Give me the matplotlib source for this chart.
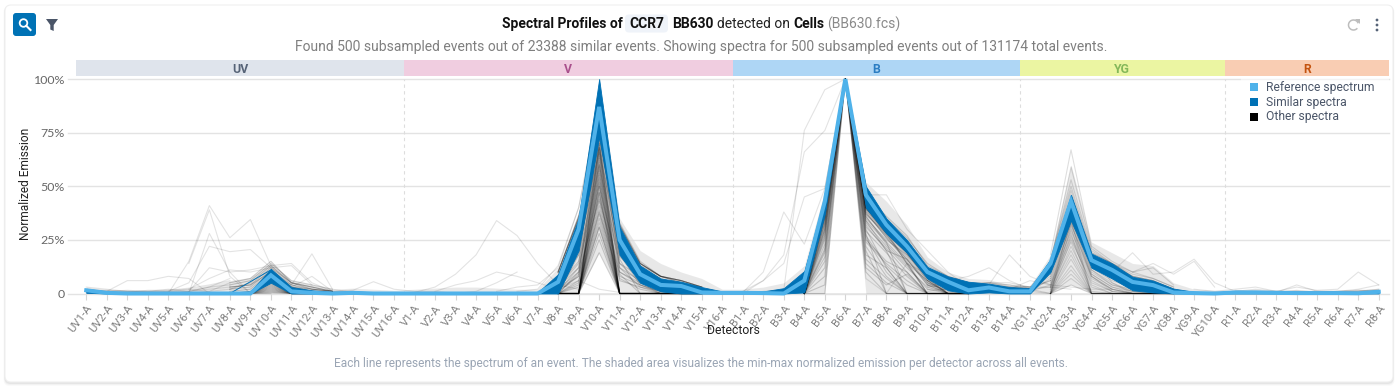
import matplotlib
matplotlib.use("Agg")
import matplotlib.pyplot as plt
from matplotlib.patches import FancyBboxPatch, Rectangle, Circle, Polygon, Arc
from matplotlib.transforms import ScaledTranslation

W, H = 1400, 389

detectors = ["UV1-A","UV2-A","UV3-A","UV4-A","UV5-A","UV6-A","UV7-A","UV8-A","UV9-A","UV10-A","UV11-A","UV12-A","UV13-A","UV14-A","UV15-A","UV16-A",
             "V1-A","V2-A","V3-A","V4-A","V5-A","V6-A","V7-A","V8-A","V9-A","V10-A","V11-A","V12-A","V13-A","V14-A","V15-A","V16-A",
             "B1-A","B2-A","B3-A","B4-A","B5-A","B6-A","B7-A","B8-A","B9-A","B10-A","B11-A","B12-A","B13-A","B14-A",
             "YG1-A","YG2-A","YG3-A","YG4-A","YG5-A","YG6-A","YG7-A","YG8-A","YG9-A","YG10-A",
             "R1-A","R2-A","R3-A","R4-A","R5-A","R6-A","R7-A","R8-A"]
lasers = ["UV", "V", "B", "YG", "R"]
laser_counts = [16, 16, 14, 10, 8]
laser_fill = ["#DFE4EC", "#F0CDE0", "#AED6F5", "#EBF5A2", "#F9CDB3"]
laser_text = ["#566377", "#A9508C", "#2B7DC2", "#84B85A", "#C4530F"]

reference = [1.5,0.3,0,0,0,0,0,0,0,8.5,1,0.3,0,0.3,0,0,
             0,0,0,0,0,0,0,5.4,30,87,25,9,4,3.5,0.5,0.3,
             0.3,0.2,0,6,43,100,46,32,22,10,5.5,1.5,2.8,1,
             1,14,43,15.5,11,5.4,3.9,0.5,0.2,0,
             0.5,0.5,0.3,0.2,0.2,0.2,0.1,0.8]
similar_upper = [2.2,1,0.5,0.5,0.4,0.4,0.4,0.5,1,11.5,3,1.5,0.8,1,0.6,0.4,
                 0.4,0.3,0.3,0.3,0.3,0.3,0.5,9,35,100,31,13,7,5.5,3,1,
                 1,1,2.5,10.5,45,100,50,35,25,12.4,8,5.5,4.6,3,
                 2.5,16,46,18.6,14,7.8,6,2.3,0.8,0.5,
                 1,1,0.8,0.7,0.7,0.7,0.7,1.6]
similar_lower = [0.3,0,0,0,0,0,0,0,0,5,0,0,0,0,0,0,
                 0,0,0,0,0,0,0,0,20,73,18,5,1,0,0,0,
                 0,0,0,0.5,37,100,40,28,19,7,1.5,0,0.5,0,
                 0,10,34,12,7,1.5,0.5,0,0,0,
                 0,0,0,0,0,0,0,0]
shade_upper = [3,2,1.5,1.5,2,2.5,4,6,7.5,14,6,4,2,2.5,2,1.5,
               2,2.5,3,3,2.5,2,2,12,38,100,35,20,14,10,7,2,
               2,3,5,13,48,100,52,43,32,17,10,7,6.5,4,
               3.5,18,60,24,19,14,13,5,2,1.5,
               1.5,1.5,1.5,1.5,1.5,1.5,2,2]
shade_lower = [0,0,0,0,0,0,0,0,0,0,0,0,0,0,0,0,
               0,0,0,0,0,0,0,0,0,19,0,0,0,0,0,0,
               0,0,0,0,0,100,0,0,0,0,0,0,0,0,
               0,0,4,0,0,0,0,0,0,0,
               0,0,0,0,0,0,0,0]

# individually visible events: (first detector index, values)
outliers = [
    (4,  [0,15,41,26,34.5,13,4,1,0.5]),
    (5,  [14,39,8,0,0]),
    (5,  [0,28,10,0]),
    (4,  [1,5,22,19.5,20.5,12,3,1]),
    (1,  [1,6,6,8,7,0,0]),
    (9,  [8,4,18.5,2,0.5]),
    (9,  [9,3,8,1,0.5]),
    (5,  [1,12,10,11,13,14,5,1]),
    (5,  [2,7,11,10,12,13,4]),
    (12, [1,1.5,5.5,2,1,1,0,1,5,10]),
    (16, [0.5,3,9,18,34,27,14,4,2]),
    (17, [1,4,6,10,8,5,2,6,2,0.5]),
    (21, [1,2,13,40,90,30,10,3]),
    (20, [1,3,4,12,40,85,20,6]),
    (33, [1,1.5,76,95,100,50,30]),
    (32, [1,6,18,66,76,100]),
    (32, [0,6,14,45,49,100]),
    (32, [0.5,10,38,23,49,100]),
    (37, [100,7,0,14,9,0,0]),
    (37, [100,46,46,30,20,10,3]),
    (41, [9,6,8,12,6,2,3,2]),
    (43, [2,4,18,8,4,3,2,2]),
    (45, [2,6,4,32,8,1]),
    (47, [3,33,18,5,0]),
    (49, [13,10,19,9,10,16,5,1]),
    (51, [10,14,9,15,3]),
    (56, [1,2,1,3,1.5,2,10,4]),
    (58, [0.5,4,1,1,2,4]),
    (54, [2,1,2,3,1,1,0.5,1,1,1]),
]

# dense fans around each emission peak
v_fan_start = 23   # V8 .. V15
v_fan = [
    [10,36,72,33,15,8,6,3],[10,36,74,32,14,8,6,3],[10,35,70,32,14,8,6,3],[10,35,68,32,14,8,6,3],
    [10,35,72,31,14,8,6,3],[9,28,66,26,14,8,5,3],[8,26,64,24,13,8,5,2],[8,24,70,22,12,7,4,2],
    [7,22,62,20,11,6,4,1],[6,20,68,18,10,5,3,1],[5,18,60,17,9,5,2,0],[4,15,58,14,8,4,1,0],
    [3,12,56,12,6,3,1,0],[2,10,66,10,5,2,0,0],[1,8,54,8,4,1,0,0],[0,5,52,6,3,0,0,0],
    [0,0,71,0,0,0,0,0],[0,0,69,0,0,0,0,0],[0,0,67,0,0,0,0,0],[0,0,65,0,0,0,0,0],
    [0,0,63,0,0,0,0,0],[0,0,61,0,0,0,0,0],[0,0,59,0,0,0,0,0],[0,0,57,0,0,0,0,0],
    [0,0,55,0,0,0,0,0],[0,0,53,0,0,0,0,0],[0,0,51,0,0,0,0,0],[0,0,50,0,0,0,0,0],
    [0,0,48,0,0,0,0,0],[0,0,47,0,0,0,0,0],[0,0,47,0,0,0,0,0],[0,0,45,0,0,0,0,0],
    [0,0,43,0,0,0,0,0],[0,0,41,0,0,0,0,0],[0,0,39,0,0,0,0,0],[0,0,37,0,0,0,0,0],
    [0,0,35,0,0,0,0,0],[0,0,33,0,0,0,0,0],[0,0,31,0,0,0,0,0],[0,0,31,0,0,0,0,0],
    [0,0,28,0,0,0,0,0],[0,0,25,0,0,0,0,0],[0,0,19,0,0,0,0,0],[0,4,76,18,4,0,0,0],
    [2,8,78,12,3,1,0,0],[3,14,80,20,6,2,0,0],[0,18,74,23,9,4,2,0],[1,12,68,16,0,0,0,0],
    [0,10,60,14,5,0,0,0],[0,6,50,10,4,1,0,0],[0,9,44,9,0,0,0,0],[0,3,38,7,2,0,0,0],
]
b_fan_start = 35   # B4 .. B12
b_fan = [
    [0,0,100,34,20,0,0,0,0],[0,4,100,30,12,0,0,0,0],[0,8,100,28,0,0,0,0,0],[0,12,100,26,10,0,0,0,0],
    [0,15,100,24,14,6,0,0,0],[0,17,100,22,8,0,0,0,0],[0,19,100,20,0,0,0,0,0],[0,21,100,18,12,0,0,0,0],
    [0,23,100,14,5,0,0,0,0],[0,25,100,10,0,0,0,0,0],[0,26,100,36,24,14,0,0,0],[0,27,100,38,26,16,4,0,0],
    [0,28,100,33,22,12,3,0,0],[0,29,100,35,25,18,6,0,0],[0,30,100,37,28,14,0,0,0],[0,31,100,31,21,10,0,0,0],
    [0,32,100,39,27,17,5,1,0],[0,33,100,29,19,8,0,0,0],[0,33,100,40,29,19,7,0,0],[0,34,100,36,23,13,2,0,0],
    [0,35,100,38,26,15,0,0,0],[0,35,100,32,20,16,4,0,0],[0,36,100,40,28,18,8,2,0],[0,36,100,34,24,0,0,0,0],
    [0,36,100,27,13,4,0,0,0],[0,37,100,37,27,16,5,0,0],[0,37,100,40,29,19,7,3,0],[0,38,100,39,28,19,6,0,0],
    [0,38,100,40,28,20,8,2,0],[0,39,100,25,15,10,0,0,0],[0,39,100,40,29,19,8,4,0],[0,40,100,40,29,20,9,4,1],
    [1,40,100,40,28,19,7,0,0],[1,41,100,41,30,20,10,4,2],[2,41,100,41,29,14,6,0,0],[2,42,100,42,30,21,10,5,2],
    [3,42,100,43,32,22,9,3,0],[4,43,100,47,35,26,14,8,5],[5,44,100,44,33,19,8,2,0],[8,45,100,46,36,27,13,8,5],
    [0,30,100,16,7,0,0,0,0],[0,20,100,12,4,9,0,0,0],
]
yg_fan_start = 47  # YG2 .. YG8
yg_fan = [
    [0,4,0,0,0,0,0],[0,7,0,0,0,0,0],[0,9,0,0,0,0,0],[0,11,0,0,0,0,0],[0,13,0,0,0,0,0],[0,16,0,0,0,0,0],
    [0,18,0,0,0,0,0],[1,20,1,0,0,0,0],[0,22,3,0,0,0,0],[2,24,0,0,0,0,0],[0,25,5,1,0,0,0],[3,26,4,0,0,0,0],
    [1,27,6,1,0,0,0],[2,28,0,0,0,0,0],[4,29,7,2,0,0,0],[3,30,8,2,0,0,0],[0,31,0,0,0,0,0],[5,32,9,3,1,0,0],
    [6,33,8,2,0,0,0],[7,34,10,4,1,0,0],[8,34,0,0,0,0,0],[9,35,11,5,1,1,0],[0,35,9,3,0,0,0],[10,36,11,4,2,1,0],
    [10,37,13,7,2,1,0],[11,38,12,6,3,2,0],[12,38,14,8,4,3,0],[12,40,15,9,4,3,0],[13,42,14,10,6,4,1],[14,44,16,11,6,4,1],
    [15,46,18,13,8,6,2],[15,48,19,14,8,6,2],[16,50,19,14,8,6,2],[15,53,20,14,9,7,3],[14,59,21,14,10,7,3],[18,67,22,15,10,12,4],
]
uv_fan_start = 7   # UV8 .. UV13
uv_fan = [
    [0,0,0.5,0,0,0],[0,0,1,0,0,0],[0,0,1.5,0,0,0],[0,0,2,0,0,0],[0,0,2.5,0,0,0],[0,0,3,0,0,0],
    [0,0,3.5,0,0,0],[0,0,4,0,0,0],[0,0,4.5,0,0,0],[0,0,5,0,0,0],[0,0,5.5,0,0,0],[0,0,6,0,0,0],
    [0,0,7,0,0,0],[0,0,8,0,0,0],[0,1,9,2,0,0],[1,2,10,3,1,0],[2,3,11,4,2,1],[3,4,12,5,2,1],
    [2,5,13,5,3,1],[4,6,14,6,4,2],[5,7,15,5,3,1],[3,4,10,3,2,1],
]
tail_start = 41    # B10 .. YG2
tail_rows = [
    [10,6,4,5,5,3,3],[8,6,5,5,3,3,6],[9,7,3,4,4,2,8],[6,5,4,3,3,2,12],[5,3,4,5,4,3,10],[4,4,5,3,3,3,14],
    [3,4,2,3,2,2,9],[7,5,3,2,3,2,6],[2,2,1,2,2,1,7],[1,2,3,3,1,1,4],[6,3,5,3,2,2,0],[4,2,1,1,1,1,0],
]
noise_start = 0
noise_rows = [
    [1,1,0.5,0.3,0.5,1,2,3],[2,1,1.5,1,1,2,1,2],[0.5,1.5,1,1,2,1,3,4],[3,2,1,1,0.5,0.5,1,5],
    [1,0.5,0.5,1.5,1.5,2.5,4,6],[0.5,0.5,1,0.5,1,1,3,7],
]
noise2_start = 56
noise2_rows = [[1,1,1,0.5,1,0.5,1,2],[0.5,1.5,0.5,1,0.5,1,1.5,1],[1.5,0.5,1,1,1,1,0.5,1.5],[1,1,0.5,1.5,0.5,0.5,1,2]]

ytick_values = [0, 25, 50, 75, 100]
ytick_labels = ["0", "25%", "50%", "75%", "100%"]
legend_labels = ["Reference spectrum", "Similar spectra", "Other spectra"]
REF_C, SIM_C, OTH_C = "#4FB2EA", "#0071B5", "#000000"

plt.rcParams["font.family"] = ["Roboto", "DejaVu Sans"]
fig = plt.figure(figsize=(W/100, H/100), dpi=100, facecolor="white")

# pixel overlay for card and page furniture
bg = fig.add_axes([0, 0, 1, 1], zorder=0)
bg.set_xlim(0, W); bg.set_ylim(H, 0); bg.axis("off")
for grow, a in [(3, 0.02), (2, 0.03), (1, 0.05)]:
    bg.add_patch(FancyBboxPatch((5-grow*0.5, 6), 1388+grow, 377+grow, boxstyle="round,pad=0,rounding_size=6",
                                fc="#000000", ec="none", alpha=a))
bg.add_patch(FancyBboxPatch((5, 5), 1388, 377, boxstyle="round,pad=0,rounding_size=6", fc="white", ec="#EFEFEF", lw=0.8))

# main axes
L, R_, T, B = 76, 1389, 79, 293.5
ax = fig.add_axes([L/W, 1-B/H, (R_-L)/W, (B-T)/H], zorder=1)
ax.patch.set_alpha(0)
ax.set_xlim(-0.5, 63.5); ax.set_ylim(0, 100)
for s in ax.spines.values():
    s.set_visible(False)
x_all = list(range(len(detectors)))

for v in ytick_values:
    ax.plot([-0.9, 63.5], [v, v], color="#E3E3E3", lw=1.0, clip_on=False, zorder=0.5)

ax.fill_between(x_all, shade_lower, shade_upper, color="#DADADA", alpha=0.6, lw=0, zorder=1)

def draw_rows(start, rows, alpha):
    for r in rows:
        ax.plot(range(start, start+len(r)), r, color="black", lw=0.8, alpha=alpha, clip_on=False, zorder=2, solid_joinstyle="round")

ax.plot([0, 63], [0, 0], color="black", lw=1.0, alpha=0.35, zorder=2)
draw_rows(v_fan_start, v_fan, 0.17)
draw_rows(b_fan_start, b_fan, 0.17)
draw_rows(yg_fan_start, yg_fan, 0.13)
draw_rows(uv_fan_start, uv_fan, 0.2)
draw_rows(tail_start, tail_rows, 0.13)
draw_rows(noise_start, noise_rows, 0.1)
draw_rows(noise2_start, noise2_rows, 0.1)
for start, vals in outliers:
    ax.plot(range(start, start+len(vals)), vals, color="black", lw=0.8, alpha=0.11, clip_on=False, zorder=2)

ax.fill_between(x_all, similar_lower, similar_upper, color=SIM_C, lw=0.6, zorder=3, clip_on=False)
ax.plot([7, 9], [0, 11], color=SIM_C, lw=0.7, zorder=3)
ax.plot(x_all, reference, color=REF_C, lw=2.9, zorder=4, clip_on=False, solid_joinstyle="miter")

# laser header bands and separators
pos = -0.5
for name, n, fc, tc in zip(lasers, laser_counts, laser_fill, laser_text):
    ax.add_patch(Rectangle((pos, 1.014), n, 0.0746, transform=ax.get_xaxis_transform(), fc=fc, ec="none", clip_on=False))
    ax.text(pos+n/2, 1.045, name, transform=ax.get_xaxis_transform(), ha="center", va="center",
            color=tc, fontsize=8.8, fontweight="bold")
    if pos > 0:
        ax.plot([pos, pos], [0, 100.0], color="#DDDDDD", lw=0.8, ls=(0, (3, 3)), zorder=0.6)
    pos += n

ax.set_xticks(x_all)
ax.set_xticklabels(detectors, rotation=53, ha="right", va="top", rotation_mode="anchor",
                   fontsize=8.2, color="#808080", family="Roboto")
shift = ScaledTranslation(3/100, 0, fig.dpi_scale_trans)
for lab in ax.get_xticklabels():
    lab.set_transform(lab.get_transform() + shift)
ax.tick_params(axis="x", length=4, width=0.8, color="#D5D5D5", pad=3)
ax.set_yticks(ytick_values)
ax.set_yticklabels(ytick_labels, fontsize=8.9, color="#666666", family="Lato")
ax.tick_params(axis="y", length=0, pad=8)

# legend
fg = fig.add_axes([0, 0, 1, 1], zorder=2)
fg.set_xlim(0, W); fg.set_ylim(H, 0); fg.axis("off")
fg.add_patch(Rectangle((1241, 78), 148, 48, fc="white", ec="none", alpha=0.55))
for y, c, t in zip([87, 102, 116.5], [REF_C, SIM_C, OTH_C], legend_labels):
    fg.add_patch(Rectangle((1250, y-4), 8, 8, fc=c, ec="none"))
    fg.text(1266, y, t, fontsize=8.7, color="#4A5568", va="center", ha="left")

fg.text(733, 331, "Detectors", fontsize=8.8, color="#222222", ha="center", va="center")
fg.text(25.5, 184, "Normalized Emission", fontsize=8.6, color="#222222", rotation=90, ha="center", va="center")
fg.text(701, 364, "Each line represents the spectrum of an event. The shaded area visualizes the min-max normalized emission per detector across all events.",
        fontsize=8.58, color="#9AA5B4", ha="center", va="center")
fg.text(701, 47, "Found 500 subsampled events out of 23388 similar events. Showing spectra for 500 subsampled events out of 131174 total events.",
        fontsize=10.0, color="#7F7F7F", ha="center", va="center")

# title built from pieces: (text, weight, colour, left pixel)
pieces = [("Spectral Profiles of", "bold", "#111111", 502), ("CCR7", "bold", "#111111", 629), ("BB630", "bold", "#111111", 672),
          ("detected on", "normal", "#222222", 717), ("Cells", "bold", "#111111", 793), ("(BB630.fcs)", "normal", "#8A8A8A", 827)]
for txt, wt, col, x in pieces:
    fg.text(x, 24, txt, fontsize=10, fontweight=wt, color=col, ha="left", va="center", zorder=5)
fg.add_patch(FancyBboxPatch((625, 14.5), 43, 18, boxstyle="round,pad=0,rounding_size=4", fc="#EFF3F9", ec="none", zorder=4))

# toolbar icons
fg.add_patch(FancyBboxPatch((13, 13), 23, 23, boxstyle="round,pad=0,rounding_size=3", fc="#0072B5", ec="none"))
fg.add_patch(Circle((23.5, 23), 3.8, fc="none", ec="white", lw=1.3))
fg.plot([26.3, 30.5], [25.8, 30], color="white", lw=1.5)
fg.add_patch(Polygon([(46, 19), (58, 19), (53.7, 25), (53.7, 31), (50.3, 29.5), (50.3, 25)], fc="#4A5568", ec="none"))
fg.add_patch(Arc((1353.5, 25), 10, 10, angle=0, theta1=-320, theta2=-20, ec="#BDBDBD", lw=1.1))
fg.add_patch(Polygon([(1355, 19), (1360, 19), (1360, 24)], fc="#BDBDBD", ec="none"))
for y in [20, 25, 30]:
    fg.add_patch(Circle((1377, y), 1.4, fc="#566377", ec="none"))

fig.savefig("out.png", dpi=100, facecolor="white")
